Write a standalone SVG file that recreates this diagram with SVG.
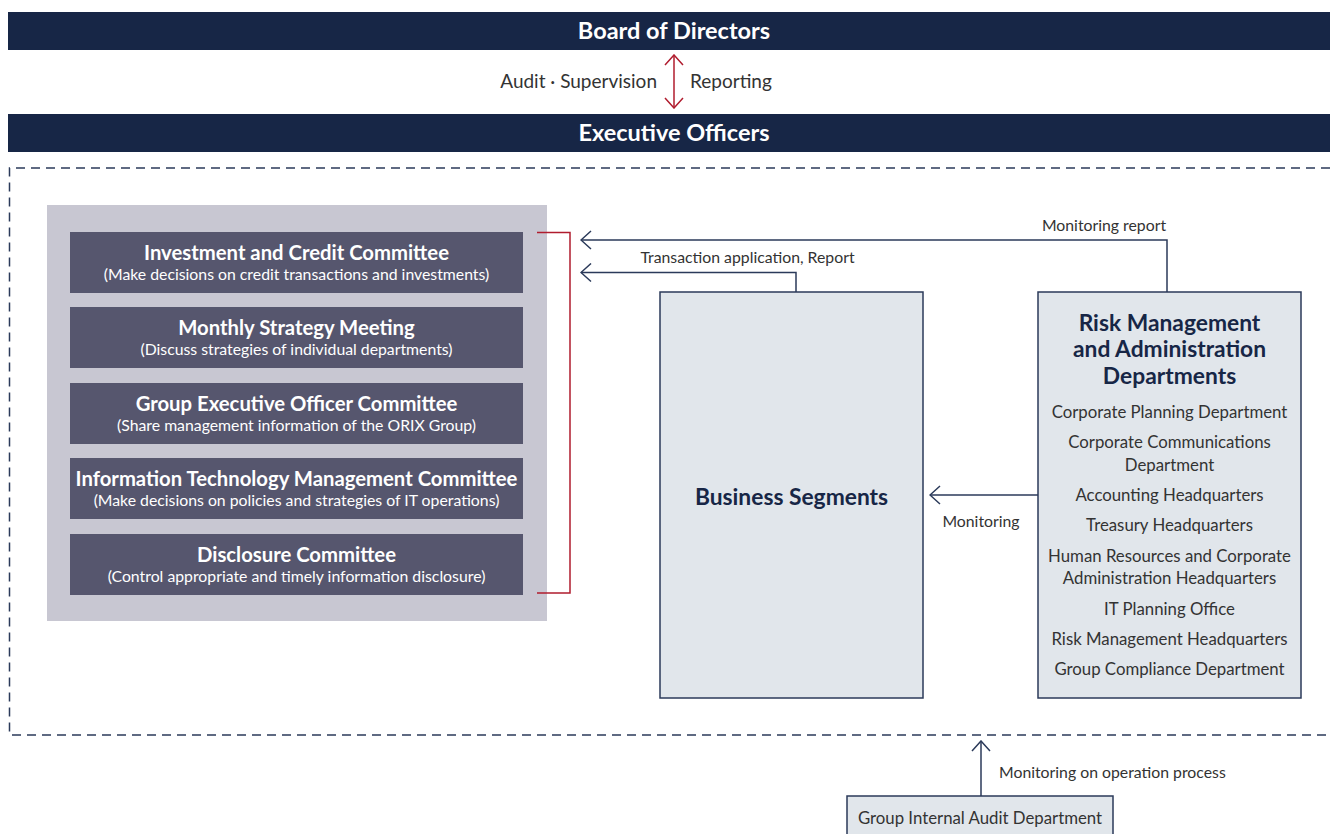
<svg xmlns="http://www.w3.org/2000/svg" width="1330" height="834" viewBox="0 0 1330 834">
  <defs>
    <style>
      text { font-family: Lato, "Open Sans", "Liberation Sans", sans-serif; }
      .bar { fill: #172646; }
      .bar-title { fill: #ffffff; font-size: 23.5px; font-weight: 700; text-anchor: middle; }
      .lbl { fill: #333333; font-size: 19px; }
      .small { fill: #333333; font-size: 15.8px; }
      .panel { fill: #c8c7d2; }
      .cm { fill: #56566e; }
      .cm-title { fill: #ffffff; font-size: 20.3px; font-weight: 700; text-anchor: middle; }
      .cm-sub { fill: #ffffff; font-size: 15.8px; text-anchor: middle; }
      .box { fill: #e1e6eb; stroke: #2b3a5a; stroke-width: 1.5; }
      .box-title { fill: #172646; font-size: 22.8px; font-weight: 700; text-anchor: middle; }
      .item { fill: #333333; font-size: 16.8px; text-anchor: middle; }
      .link { fill: none; stroke: #2b3a5a; stroke-width: 1.5; }
      .red { fill: none; stroke: #b01c2e; stroke-width: 1.5; }
      .dash { fill: none; stroke: #2b3a5a; stroke-width: 1.5; stroke-dasharray: 9 6; }
    </style>
    <marker id="arr" viewBox="0 0 12 20" refX="11" refY="10" markerWidth="12" markerHeight="20" markerUnits="userSpaceOnUse" orient="auto-start-reverse">
      <path d="M1,1 L11,10 L1,19" fill="none" stroke="#2b3a5a" stroke-width="1.5"/>
    </marker>
    <marker id="arr-red" viewBox="0 0 12 20" refX="11" refY="10" markerWidth="12" markerHeight="20" markerUnits="userSpaceOnUse" orient="auto-start-reverse">
      <path d="M1,1 L11,10 L1,19" fill="none" stroke="#b01c2e" stroke-width="1.5"/>
    </marker>
  </defs>

  <rect width="1330" height="834" fill="#ffffff"/>

  <!-- top governance bars -->
  <g id="board">
    <rect class="bar" x="8" y="12" width="1322" height="38"/>
    <text class="bar-title" x="674" y="39">Board of Directors</text>
  </g>
  <g id="executive">
    <rect class="bar" x="8" y="114" width="1322" height="38"/>
    <text class="bar-title" x="674" y="141">Executive Officers</text>
  </g>

  <!-- executive scope (dashed, open on the right) -->
  <path id="scope" class="dash" d="M1330,168 H9.5 V735 H1330"/>

  <!-- committees -->
  <g id="committees">
    <rect class="panel" x="47" y="205" width="500" height="416"/>
    <g id="c-investment">
      <rect class="cm" x="70" y="232" width="453" height="61"/>
      <text class="cm-title" x="296.5" y="260">Investment and Credit Committee</text>
      <text class="cm-sub" x="296.5" y="280">(Make decisions on credit transactions and investments)</text>
    </g>
    <g id="c-strategy">
      <rect class="cm" x="70" y="307" width="453" height="61"/>
      <text class="cm-title" x="296.5" y="335">Monthly Strategy Meeting</text>
      <text class="cm-sub" x="296.5" y="355">(Discuss strategies of individual departments)</text>
    </g>
    <g id="c-group">
      <rect class="cm" x="70" y="383" width="453" height="61"/>
      <text class="cm-title" x="296.5" y="411">Group Executive Officer Committee</text>
      <text class="cm-sub" x="296.5" y="431">(Share management information of the ORIX Group)</text>
    </g>
    <g id="c-it">
      <rect class="cm" x="70" y="458" width="453" height="61"/>
      <text class="cm-title" x="296.5" y="486">Information Technology Management Committee</text>
      <text class="cm-sub" x="296.5" y="506">(Make decisions on policies and strategies of IT operations)</text>
    </g>
    <g id="c-disclosure">
      <rect class="cm" x="70" y="534" width="453" height="61"/>
      <text class="cm-title" x="296.5" y="562">Disclosure Committee</text>
      <text class="cm-sub" x="296.5" y="582">(Control appropriate and timely information disclosure)</text>
    </g>
  </g>

  <!-- business segments -->
  <g id="business">
    <rect class="box" x="660" y="292" width="263" height="406"/>
    <text class="box-title" x="791.5" y="505">Business Segments</text>
  </g>

  <!-- risk management and administration -->
  <g id="risk">
    <rect class="box" x="1038" y="292" width="263" height="406"/>
    <text class="box-title" x="1169.5" y="331">Risk Management</text>
    <text class="box-title" x="1169.5" y="357">and Administration</text>
    <text class="box-title" x="1169.5" y="384">Departments</text>
    <text class="item" x="1169.5" y="418">Corporate Planning Department</text>
    <text class="item" x="1169.5" y="448">Corporate Communications</text>
    <text class="item" x="1169.5" y="471">Department</text>
    <text class="item" x="1169.5" y="501">Accounting Headquarters</text>
    <text class="item" x="1169.5" y="531">Treasury Headquarters</text>
    <text class="item" x="1169.5" y="562">Human Resources and Corporate</text>
    <text class="item" x="1169.5" y="584">Administration Headquarters</text>
    <text class="item" x="1169.5" y="615">IT Planning Office</text>
    <text class="item" x="1169.5" y="645">Risk Management Headquarters</text>
    <text class="item" x="1169.5" y="675">Group Compliance Department</text>
  </g>

  <!-- internal audit -->
  <g id="audit">
    <rect class="box" x="847" y="796" width="266" height="50"/>
    <text class="item" x="980" y="824">Group Internal Audit Department</text>
  </g>

  <!-- connectors -->
  <g id="connectors">
    <path class="red" d="M674,55 V108" marker-start="url(#arr-red)" marker-end="url(#arr-red)"/>
    <text class="lbl" x="657" y="88" text-anchor="end">Audit · Supervision</text>
    <text class="lbl" x="690" y="88">Reporting</text>

    <path class="red" d="M537,232.5 H570 V593 H537"/>

    <path class="link" d="M1167,292 V240 H581" marker-end="url(#arr)"/>
    <text class="small" x="1104" y="231" text-anchor="middle">Monitoring report</text>

    <path class="link" d="M796,292 V272.5 H581" marker-end="url(#arr)"/>
    <text class="small" x="747.5" y="263" text-anchor="middle">Transaction application, Report</text>

    <path class="link" d="M1038,495 H930" marker-end="url(#arr)"/>
    <text class="small" x="981" y="527" text-anchor="middle">Monitoring</text>

    <path class="link" d="M981,796 V741" marker-end="url(#arr)"/>
    <text class="small" x="999" y="778">Monitoring on operation process</text>
  </g>
</svg>
